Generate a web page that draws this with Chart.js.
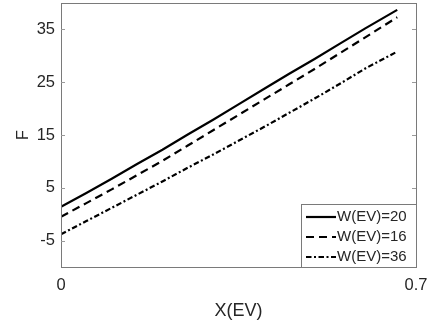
<!DOCTYPE html>
<html>
<head>
<meta charset="utf-8">
<script src="https://cdn.jsdelivr.net/npm/chart.js@4/dist/chart.umd.min.js"></script>
<style>
    html, body { margin: 0; padding: 0; background: #fff; }
    #wrap { width: 430px; height: 326px; }
</style>
</head>
<body>
<div id="wrap"><canvas id="chart" width="430" height="326"></canvas></div>
<script>
const X_VALUES = [0, 0.05, 0.1, 0.15, 0.2, 0.25, 0.3, 0.35, 0.4, 0.45, 0.5, 0.55, 0.6, 0.663];
const F_W20 = [1.4, 4.0, 6.7, 9.5, 12.2, 15.1, 17.9, 20.8, 23.7, 26.6, 29.4, 32.3, 35.2, 38.7];
const F_W16 = [-0.5, 2.1, 4.7, 7.4, 10.1, 13.0, 15.9, 18.8, 21.7, 24.6, 27.5, 30.5, 33.5, 37.3];
const F_W36 = [-3.8, -1.3, 1.2, 3.7, 6.2, 8.8, 11.3, 13.9, 16.5, 19.2, 21.9, 24.7, 27.6, 30.8];
const SERIES_LABELS = ['W(EV)=20', 'W(EV)=16', 'W(EV)=36'];
const X_TICKS = [0, 0.7];
const Y_TICKS = [-5, 5, 15, 25, 35];

const TEXT = '#262626';
const AXIS = '#7a7a7a';
const FONT = '"Liberation Sans", Arial, sans-serif';
const DASHES = [[], [8, 5], [5.5, 2.5, 2, 2.5]];

function toPoints(ys) {
    return X_VALUES.map((x, i) => ({ x, y: ys[i] }));
}

const datasets = [F_W20, F_W16, F_W36].map((ys, i) => ({
    label: SERIES_LABELS[i],
    data: toPoints(ys),
    borderColor: '#000',
    borderWidth: 2.2,
    borderDash: DASHES[i],
    pointRadius: 0,
    tension: 0,
    fill: false,
}));

// no overflow padding for the end labels, the plot box stays fixed
function noPad(scale) {
    scale.paddingLeft = 0;
    scale.paddingRight = 0;
    scale.paddingTop = 0;
    scale.paddingBottom = 0;
}

// box, inward ticks and the boxed legend in the lower right
const framePlugin = {
    id: 'frame',
    afterDraw(chart) {
        const { ctx, scales } = chart;
        const left = Math.round(scales.x.getPixelForValue(0));
        const right = Math.round(scales.x.getPixelForValue(0.7));
        const top = Math.round(scales.y.getPixelForValue(40));
        const bottom = Math.round(scales.y.getPixelForValue(-10));
        ctx.save();
        ctx.strokeStyle = AXIS;
        ctx.lineWidth = 1;
        ctx.strokeRect(left + 0.5, top + 0.5, right - left, bottom - top);

        ctx.strokeStyle = '#9a9a9a';
        ctx.beginPath();
        for (const v of Y_TICKS) {
            const y = Math.round(scales.y.getPixelForValue(v)) + 0.5;
            ctx.moveTo(left, y); ctx.lineTo(left + 4, y);
            ctx.moveTo(right, y); ctx.lineTo(right - 4, y);
        }
        ctx.stroke();

        // legend
        const bx = 301, by = 204, bw = right - bx, bh = bottom - by;
        ctx.fillStyle = '#fff';
        ctx.fillRect(bx, by, bw, bh);
        ctx.strokeStyle = AXIS;
        ctx.strokeRect(bx + 0.5, by + 0.5, bw, bh);
        ctx.font = `15px ${FONT}`;
        ctx.textBaseline = 'middle';
        ctx.textAlign = 'left';
        chart.data.datasets.forEach((ds, i) => {
            const y = by + 13 + i * 20;
            ctx.strokeStyle = '#000';
            ctx.lineWidth = 2.2;
            ctx.setLineDash(ds.borderDash);
            ctx.beginPath();
            ctx.moveTo(306, y);
            ctx.lineTo(336, y);
            ctx.stroke();
            ctx.setLineDash([]);
            ctx.fillStyle = TEXT;
            ctx.fillText(ds.label, 337, y);
        });
        ctx.restore();
    },
};

new Chart(document.getElementById('chart'), {
    type: 'line',
    data: { datasets },
    options: {
        responsive: false,
        animation: false,
        layout: { padding: { top: 3, right: 14, left: 0, bottom: 0 } },
        scales: {
            x: {
                type: 'linear',
                min: 0,
                max: 0.7,
                afterBuildTicks(scale) { scale.ticks = X_TICKS.map(value => ({ value })); },
                afterFit(scale) { scale.height = 59; noPad(scale); },
                grid: { display: false, drawTicks: false },
                border: { display: false },
                ticks: {
                    color: TEXT,
                    font: { family: FONT, size: 16.5 },
                    padding: 9,
                    maxRotation: 0,
                    autoSkip: false,
                    callback: v => String(v),
                },
                title: {
                    display: true,
                    text: 'X(EV)',
                    color: TEXT,
                    font: { family: FONT, size: 18 },
                    padding: { top: 0, bottom: 4 },
                },
            },
            y: {
                min: -10,
                max: 40,
                afterBuildTicks(scale) { scale.ticks = Y_TICKS.map(value => ({ value })); },
                afterFit(scale) { scale.width = 61; noPad(scale); },
                grid: { display: false, drawTicks: false },
                border: { display: false },
                ticks: {
                    color: TEXT,
                    font: { family: FONT, size: 16.5 },
                    padding: 6,
                    autoSkip: false,
                },
                title: {
                    display: true,
                    text: 'F',
                    color: TEXT,
                    font: { family: FONT, size: 16 },
                    padding: { top: 14, bottom: 0 },
                },
            },
        },
        plugins: {
            legend: { display: false },
            tooltip: { enabled: false },
        },
    },
    plugins: [framePlugin],
});
</script>
</body>
</html>
